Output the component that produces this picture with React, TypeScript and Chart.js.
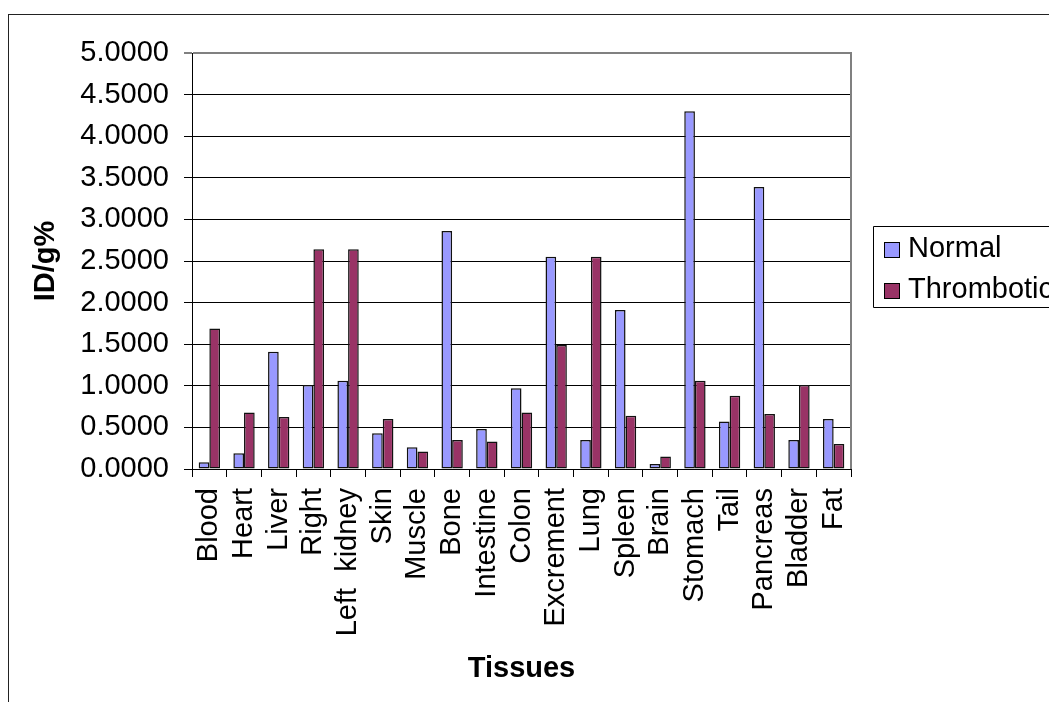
import React, { useEffect, useRef } from 'react';
import { Chart, registerables } from 'chart.js';

Chart.register(...registerables);

const FONT = "'Liberation Sans', Arial, sans-serif";
const FS = 29;

const categories = [
  'Blood', 'Heart', 'Liver', 'Right', 'Left  kidney', 'Skin', 'Muscle', 'Bone',
  'Intestine', 'Colon', 'Excrement', 'Lung', 'Spleen', 'Brain', 'Stomach', 'Tail',
  'Pancreas', 'Bladder', 'Fat',
];
const normalValues = [
  0.08, 0.19, 1.41, 1.01, 1.06, 0.43, 0.26, 2.86, 0.48, 0.97, 2.55, 0.35, 1.91,
  0.06, 4.30, 0.57, 3.39, 0.35, 0.60,
];
const thromboticValues = [
  1.69, 0.68, 0.625, 2.64, 2.64, 0.60, 0.21, 0.35, 0.33, 0.68, 1.49, 2.55, 0.64,
  0.15, 1.06, 0.88, 0.66, 1.01, 0.30,
];
const seriesNames = ['Normal', 'Thrombotic'];
const seriesColors = ['#9999FF', '#993366'];
const yMin = 0;
const yMax = 5;
const yStep = 0.5;
const xTitle = 'Tissues';
const yTitle = 'ID/g%';

export default function App() {
  const ref = useRef<HTMLCanvasElement>(null);

  useEffect(() => {
    const canvas = ref.current;
    if (!canvas) return;

    const plotBorder = {
      id: 'plotBorder',
      afterDatasetsDraw(chart: any) {
        const { ctx, chartArea } = chart;
        ctx.save();
        ctx.strokeStyle = '#808080';
        ctx.lineWidth = 2;
        ctx.beginPath();
        ctx.moveTo(chartArea.right, chartArea.top - 1);
        ctx.lineTo(chartArea.right, chartArea.bottom);
        ctx.stroke();
        ctx.restore();
      },
    };

    const legendBox = {
      id: 'legendBox',
      afterDraw(chart: any) {
        const { ctx } = chart;
        ctx.save();
        ctx.strokeStyle = '#000';
        ctx.lineWidth = 1;
        ctx.beginPath();
        ctx.moveTo(1070, 226.5);
        ctx.lineTo(873.5, 226.5);
        ctx.lineTo(873.5, 307.5);
        ctx.lineTo(1070, 307.5);
        ctx.stroke();
        ctx.font = `${FS}px ${FONT}`;
        ctx.textBaseline = 'middle';
        ctx.textAlign = 'left';
        chart.data.datasets.forEach((ds: any, i: number) => {
          const cy = 249.5 + i * 41;
          ctx.fillStyle = ds.backgroundColor;
          ctx.fillRect(884, cy - 7.5, 15, 15);
          ctx.strokeStyle = '#000';
          ctx.strokeRect(884.5, cy - 7, 15, 15);
          ctx.fillStyle = '#000';
          ctx.fillText(ds.label, 908, cy - 1);
        });
        ctx.restore();
      },
    };

    const chart = new Chart(canvas, {
      type: 'bar',
      data: {
        labels: categories,
        datasets: [
          {
            label: seriesNames[0],
            data: normalValues,
            backgroundColor: seriesColors[0],
            borderColor: '#111',
            borderWidth: 1.5,
            borderSkipped: false,
            categoryPercentage: 0.615,
            barPercentage: 1.0,
          },
          {
            label: seriesNames[1],
            data: thromboticValues,
            backgroundColor: seriesColors[1],
            borderColor: '#111',
            borderWidth: 1.5,
            borderSkipped: false,
            categoryPercentage: 0.615,
            barPercentage: 1.0,
          },
        ],
      },
      options: {
        responsive: false,
        animation: false,
        devicePixelRatio: 1,
        layout: { padding: { top: 53, right: 198, left: 0, bottom: 0 } },
        plugins: {
          legend: { display: false },
          tooltip: { enabled: false },
        },
        scales: {
          x: {
            grid: {
              drawOnChartArea: false,
              drawTicks: true,
              tickLength: 8,
              color: '#000',
              offset: true,
            },
            border: { color: '#000', width: 1 },
            ticks: {
              minRotation: 90,
              maxRotation: 90,
              autoSkip: false,
              color: '#000',
              padding: 11,
              font: { family: FONT, size: FS },
            },
            title: {
              display: true,
              text: xTitle,
              color: '#000',
              font: { family: FONT, size: FS, weight: 'bold' },
              padding: { top: 0, bottom: 16 },
            },
            afterFit: (s: any) => {
              s.height = 233;
            },
          },
          y: {
            min: yMin,
            max: yMax,
            grid: {
              color: (c: any) => (c.tick && c.tick.value === yMax ? '#808080' : '#000'),
              lineWidth: (c: any) => (c.tick && c.tick.value === yMax ? 2 : 1),
              drawTicks: true,
              tickLength: 8,
            },
            border: { color: '#000', width: 1 },
            ticks: {
              stepSize: yStep,
              color: '#000',
              padding: 15,
              font: { family: FONT, size: FS },
              callback: (v: any) => Number(v).toFixed(4),
            },
            title: {
              display: true,
              text: yTitle,
              color: '#000',
              font: { family: FONT, size: FS, weight: 'bold' },
              padding: { top: 29, bottom: 0 },
            },
            afterFit: (s: any) => {
              s.width = 192;
            },
          },
        },
      },
      plugins: [plotBorder, legendBox],
    } as any);

    return () => chart.destroy();
  }, []);

  return (
    <div
      style={{
        position: 'fixed',
        left: 0,
        top: 0,
        width: 1049,
        height: 702,
        overflow: 'hidden',
        background: '#fff',
      }}
    >
      <div
        style={{
          position: 'absolute',
          left: 8,
          top: 14,
          width: 2000,
          height: 2000,
          borderLeft: '1.5px solid #222',
          borderTop: '1.5px solid #222',
        }}
      />
      <canvas
        ref={ref}
        width={1049}
        height={702}
        style={{ position: 'absolute', left: 0, top: 0, width: 1049, height: 702 }}
      />
    </div>
  );
}
